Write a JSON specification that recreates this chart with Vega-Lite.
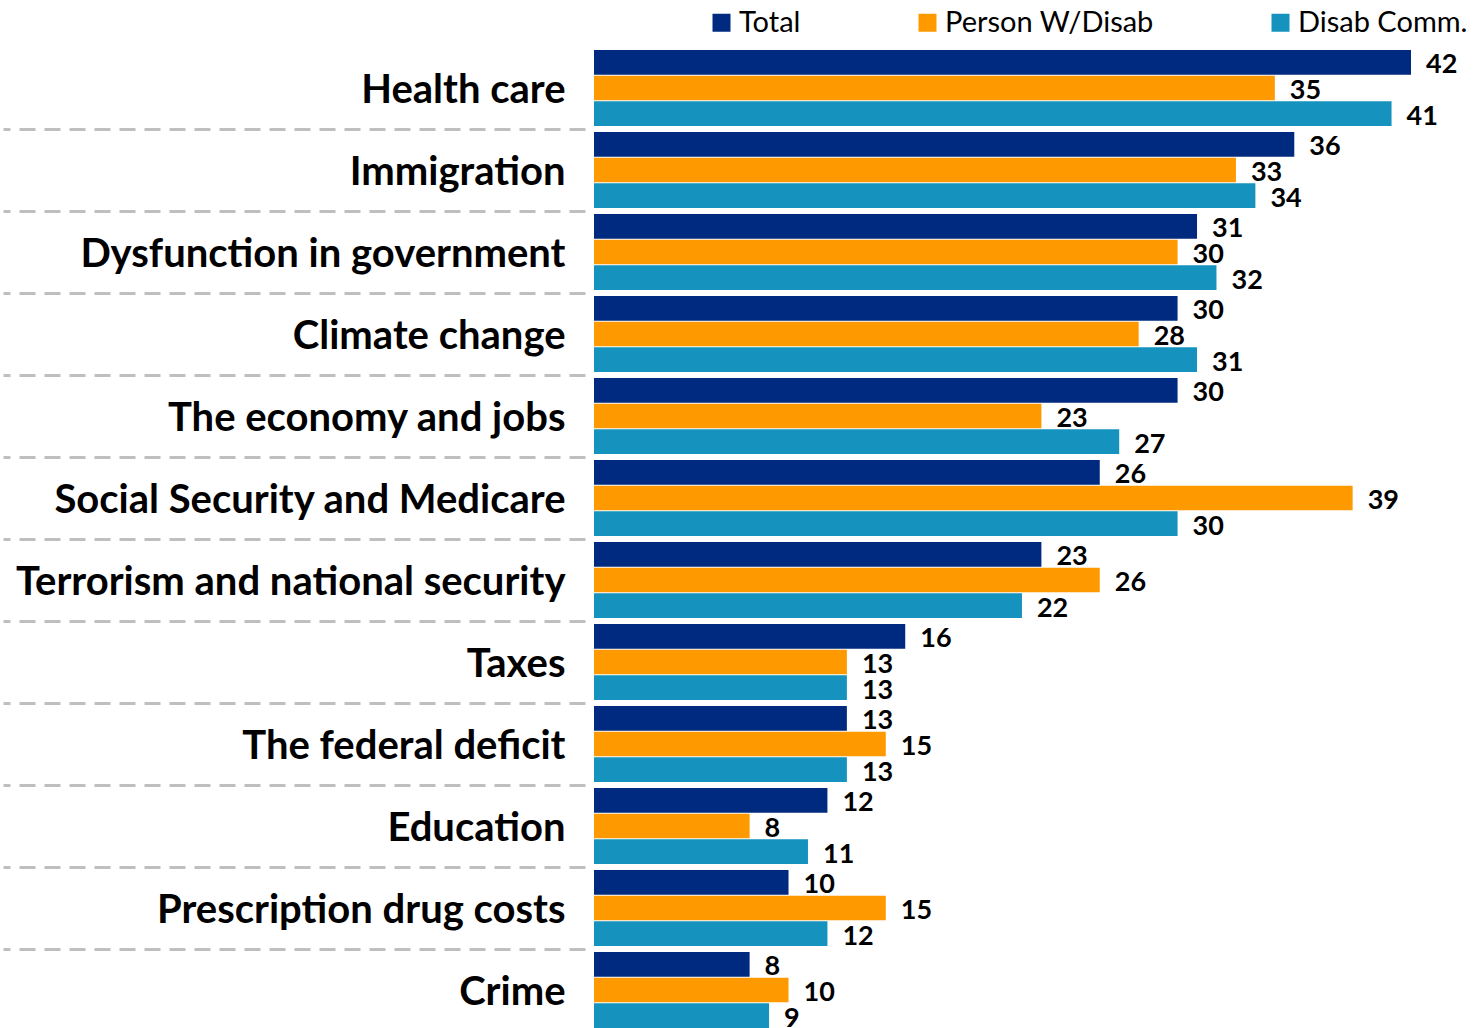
{
  "$schema": "https://vega.github.io/schema/vega-lite/v6.json",
  "width": 888,
  "height": 984,
  "autosize": {"type": "none"},
  "padding": {"left": 594, "top": 47, "right": 0, "bottom": 0},
  "background": "white",
  "config": {"view": {"stroke": null}, "font": "Lato"},
  "data": {"values": [
    {"issue": "Health care", "group": "Total", "value": 42},
    {"issue": "Health care", "group": "Person W/Disab", "value": 35},
    {"issue": "Health care", "group": "Disab Comm.", "value": 41},
    {"issue": "Immigration", "group": "Total", "value": 36},
    {"issue": "Immigration", "group": "Person W/Disab", "value": 33},
    {"issue": "Immigration", "group": "Disab Comm.", "value": 34},
    {"issue": "Dysfunction in government", "group": "Total", "value": 31},
    {"issue": "Dysfunction in government", "group": "Person W/Disab", "value": 30},
    {"issue": "Dysfunction in government", "group": "Disab Comm.", "value": 32},
    {"issue": "Climate change", "group": "Total", "value": 30},
    {"issue": "Climate change", "group": "Person W/Disab", "value": 28},
    {"issue": "Climate change", "group": "Disab Comm.", "value": 31},
    {"issue": "The economy and jobs", "group": "Total", "value": 30},
    {"issue": "The economy and jobs", "group": "Person W/Disab", "value": 23},
    {"issue": "The economy and jobs", "group": "Disab Comm.", "value": 27},
    {"issue": "Social Security and Medicare", "group": "Total", "value": 26},
    {"issue": "Social Security and Medicare", "group": "Person W/Disab", "value": 39},
    {"issue": "Social Security and Medicare", "group": "Disab Comm.", "value": 30},
    {"issue": "Terrorism and national security", "group": "Total", "value": 23},
    {"issue": "Terrorism and national security", "group": "Person W/Disab", "value": 26},
    {"issue": "Terrorism and national security", "group": "Disab Comm.", "value": 22},
    {"issue": "Taxes", "group": "Total", "value": 16},
    {"issue": "Taxes", "group": "Person W/Disab", "value": 13},
    {"issue": "Taxes", "group": "Disab Comm.", "value": 13},
    {"issue": "The federal deficit", "group": "Total", "value": 13},
    {"issue": "The federal deficit", "group": "Person W/Disab", "value": 15},
    {"issue": "The federal deficit", "group": "Disab Comm.", "value": 13},
    {"issue": "Education", "group": "Total", "value": 12},
    {"issue": "Education", "group": "Person W/Disab", "value": 8},
    {"issue": "Education", "group": "Disab Comm.", "value": 11},
    {"issue": "Prescription drug costs", "group": "Total", "value": 10},
    {"issue": "Prescription drug costs", "group": "Person W/Disab", "value": 15},
    {"issue": "Prescription drug costs", "group": "Disab Comm.", "value": 12},
    {"issue": "Crime", "group": "Total", "value": 8},
    {"issue": "Crime", "group": "Person W/Disab", "value": 10},
    {"issue": "Crime", "group": "Disab Comm.", "value": 9}
  ]},
  "encoding": {
    "y": {
      "field": "issue", "type": "nominal", "sort": null,
      "scale": {"paddingInner": 0.0732, "paddingOuter": 0.0366},
      "axis": {
        "title": null, "domain": false, "grid": false,
        "offset": 9, "tickSize": 582, "tickColor": "#BFBFBF", "tickWidth": 3,
        "tickDash": [16, 9], "tickOffset": 41, "labelOffset": -39,
        "labelPadding": -562, "labelFont": "Lato", "labelFontWeight": "bold",
        "labelFontSize": 40, "labelColor": "#000000", "labelLimit": 0
      }
    },
    "yOffset": {"field": "group", "type": "nominal", "sort": ["Total", "Person W/Disab", "Disab Comm."], "scale": {"paddingInner": 0.04}},
    "x": {"field": "value", "type": "quantitative", "scale": {"domain": [0, 45.65], "nice": false}, "axis": null}
  },
  "layer": [
    {
      "mark": {"type": "bar"},
      "encoding": {
        "color": {
          "field": "group", "type": "nominal",
          "sort": ["Total", "Person W/Disab", "Disab Comm."],
          "scale": {"domain": ["Total", "Person W/Disab", "Disab Comm."], "range": ["#002A7F", "#FF9900", "#1592BE"]},
          "legend": {
            "title": null, "orient": "none", "direction": "horizontal",
            "legendX": 113, "legendY": -39,
            "symbolType": "square", "symbolSize": 324, "symbolStrokeWidth": 0,
            "labelFont": "Lato", "labelFontSize": 29, "labelColor": "#000000",
            "columnPadding": 112, "labelOffset": 3, "labelLimit": 0
          }
        }
      }
    },
    {
      "mark": {"type": "text", "align": "left", "baseline": "middle", "dx": 15, "dy": 3, "font": "Lato", "fontWeight": "bold", "fontSize": 27, "color": "#000000"},
      "encoding": {"text": {"field": "value", "type": "quantitative"}}
    }
  ]
}
